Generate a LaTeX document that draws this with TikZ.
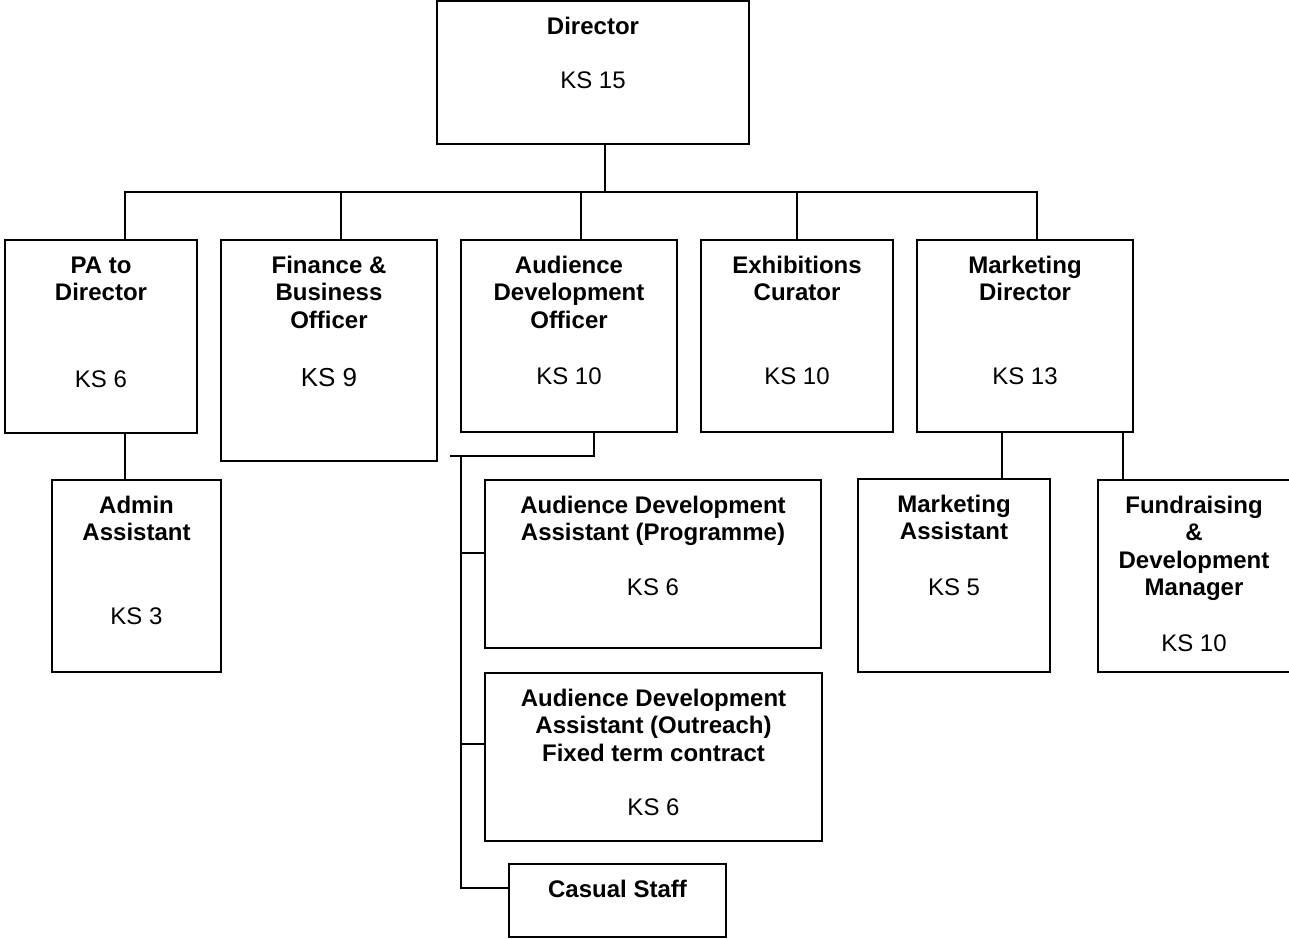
\documentclass[tikz,border=0pt]{standalone}
\usepackage{fontspec}
\setmainfont{Liberation Sans}
\usepackage{tikz}

\begin{document}
\begin{tikzpicture}[x=0.5pt,y=-0.5pt,line width=1pt,
  postbox/.style 2 args={draw,inner sep=0pt,minimum width=#1*0.5pt,minimum height=#2*0.5pt},
  role/.style={anchor=north,inner sep=0pt,align=center,font=\bfseries\fontsize{12}{13.7}\selectfont},
  grade/.style={anchor=base,inner sep=0pt,font=\fontsize{12}{13.7}\selectfont}]
\useasboundingbox (0,0) rectangle (1289,938);
\clip (0,0) rectangle (1289,938);
% boxes
\node[postbox={312}{143}] (dir) at (593,72.5) {};
\node[postbox={192}{193}] (pa) at (101,336.5) {};
\node[postbox={216}{221}] (fin) at (329,350.5) {};
\node[postbox={216}{192}] (ado) at (569,336) {};
\node[postbox={192}{192}] (exh) at (797,336) {};
\node[postbox={216}{192}] (mkd) at (1025,336) {};
\node[postbox={169}{192}] (adm) at (136.5,576) {};
\node[postbox={336}{168}] (ada-prog) at (653,564) {};
\node[postbox={337}{168}] (ada-outr) at (653.5,757) {};
\node[postbox={217}{73}] (cas) at (617.5,900.5) {};
\node[postbox={192}{193}] (mka) at (954,575.5) {};
\node[postbox={192}{192}] (fnd) at (1194,576) {};
% job titles
\node[role] (dir-t) at (593,16) {Director};
\node[role] (pa-t) at (101,256) {PA to\\Director};
\node[role] (fin-t) at (329,255) {Finance \&\\Business\\Officer};
\node[role] (ado-t) at (569,255) {Audience\\Development\\Officer};
\node[role] (exh-t) at (797,255) {Exhibitions\\Curator};
\node[role] (mkd-t) at (1025,255) {Marketing\\Director};
\node[role] (adm-t) at (136.5,495) {Admin\\Assistant};
\node[role] (ada-prog-t) at (653,495) {Audience Development\\Assistant (Programme)};
\node[role] (ada-outr-t) at (653.5,688) {Audience Development\\Assistant (Outreach)\\Fixed term contract};
\node[role] (cas-t) at (617.5,879) {Casual Staff};
\node[role] (mka-t) at (954,494) {Marketing\\Assistant};
\node[role] (fnd-t) at (1194,495) {Fundraising\\\&\\Development\\Manager};
% grades
\node[grade] (dir-g) at (593,88.5) {KS 15};
\node[grade] (pa-g) at (101,387.5) {KS 6};
\node[grade,font=\fontsize{13}{15}\selectfont] (fin-g) at (329,386.5) {KS 9};
\node[grade] (ado-g) at (569,384.5) {KS 10};
\node[grade] (exh-g) at (797,384.5) {KS 10};
\node[grade] (mkd-g) at (1025,384.5) {KS 13};
\node[grade] (adm-g) at (136.5,624.5) {KS 3};
\node[grade] (ada-prog-g) at (653,595.5) {KS 6};
\node[grade] (ada-outr-g) at (653.5,815.5) {KS 6};
\node[grade] (mka-g) at (954,595.5) {KS 5};
\node[grade] (fnd-g) at (1194,651.5) {KS 10};
% director to the first row
\coordinate (t-dir) at (605,192);
\draw (t-dir |- dir.south) -- (t-dir);
\foreach \n/\x in {pa/125,fin/341,ado/581,exh/797,mkd/1037}
  \coordinate (t-\n) at (\x,192);
\draw (t-pa |- pa.north) -- (t-pa) -- (t-mkd) -- (t-mkd |- mkd.north);
\foreach \n in {fin,ado,exh}
  \draw (t-\n) -- (t-\n |- \n.north);
\draw (t-pa |- pa.south) -- (t-pa |- adm.north);
% audience development team
\coordinate (ado-j) at (594,456);
\coordinate (stub) at (450,456);
\coordinate (spine) at (461,456);
\coordinate (b-prog) at (461,553);
\coordinate (b-outr) at (461,744);
\coordinate (b-cas) at (461,888);
\draw (ado-j |- ado.south) -- (ado-j) -- (stub);
\draw (spine) -- (b-cas) -- (b-cas -| cas.west);
\draw (b-prog) -- (b-prog -| ada-prog.west);
\draw (b-outr) -- (b-outr -| ada-outr.west);
% marketing team
\coordinate (m-a) at (1002,456);
\coordinate (m-f) at (1123,456);
\draw (m-a |- mkd.south) -- (m-a |- mka.north);
\draw (m-f |- mkd.south) -- (m-f |- fnd.north);
\end{tikzpicture}
\end{document}
